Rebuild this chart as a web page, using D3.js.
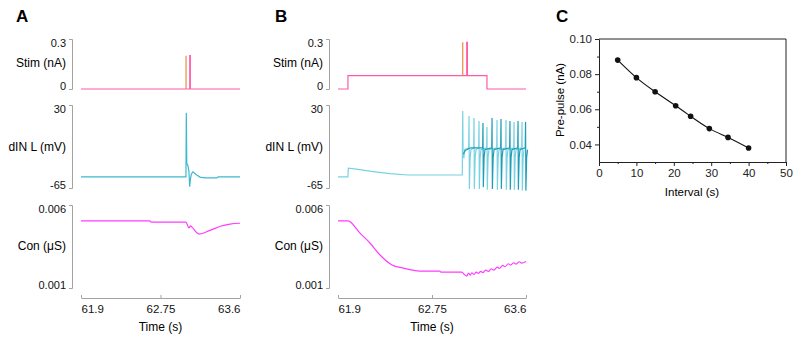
<!DOCTYPE html>
<html>
<head>
<meta charset="utf-8">
<script src="https://cdn.jsdelivr.net/npm/d3@7.9.0/dist/d3.min.js"></script>
<style>
  body { margin: 0; background: #fff; }
  svg { display: block; font-family: "Liberation Sans", Arial, sans-serif; }
</style>
</head>
<body>
<svg width="800" height="342"></svg>
<script>
// ---- data ----
const timeTicks = [61.9, 62.75, 63.6];
const stimTicks = [0, 0.3];
const dinTicks = [-65, 30];
const conTicks = [0.001, 0.006];

// panel A (single test pulse)
const stimA = [[61.9, 0], [63.063, 0], [63.063, 0.2], [63.069, 0.2], [63.069, 0], [63.6, 0]];
const stimPulseA = [[63.023, 0], [63.023, 0.2]];
const dinA = [
  [61.9, -52.2], [63.022, -52.2], [63.026, 21], [63.031, -37], [63.042, -39],
  [63.054, -46], [63.062, -63.5], [63.07, -55], [63.08, -49], [63.097, -46.5],
  [63.13, -49.5], [63.172, -52.5], [63.226, -53.5], [63.354, -53.5], [63.366, -52.3], [63.6, -52.3]
];
const conA = [
  [61.9, 0.00504], [62.637, 0.00504], [62.648, 0.00497], [63.022, 0.00497],
  [63.054, 0.00462], [63.072, 0.00474], [63.084, 0.00468], [63.162, 0.00425],
  [63.279, 0.00447], [63.39, 0.00472], [63.493, 0.00485], [63.6, 0.0049]
];

// panel B (pre-pulse + test pulse)
const stimB = [
  [61.9, 0], [61.99, 0], [61.99, 0.08], [63.064, 0.08], [63.064, 0.28], [63.07, 0.28],
  [63.07, 0.08], [63.247, 0.08], [63.247, 0], [63.6, 0]
];
const stimPulseB = [[63.028, 0.08], [63.028, 0.28]];
const dinBPre = [
  [61.9, -52.2], [61.99, -52.2], [61.993, -42.4], [62.066, -43.5], [62.2, -46],
  [62.37, -48.6], [62.533, -50.1], [63.024, -50.1]
];
const spikeTimesL = [63.028, 63.085, 63.13, 63.175, 63.247, 63.338, 63.419, 63.492, 63.564];
const spikePeaksL = [23, 17.4, 15, 11.7, 4.8, 12.8, 12.8, 10.5, 10.5];
const spikeTroughsL = [-28, -66, -66, -66, -67, -67, -67, -67, -68];
const spikeTimesD = [63.211, 63.293, 63.374, 63.455, 63.528, 63.596];
const spikePeaksD = [9.4, 15, 14, 11.7, 11.7, 10.5];
const spikeTroughsD = [-64, -66, -66, -67, -67, -68];
const conB = [
  [61.9, 0.00504], [61.99, 0.00504], [62.099, 0.00431], [62.189, 0.00371], [62.28, 0.00299],
  [62.388, 0.00239], [62.488, 0.0022], [62.641, 0.00202], [62.82, 0.00202], [62.83, 0.00196],
  [63.02, 0.00196], [63.045, 0.0018], [63.065, 0.00172], [63.08, 0.0019], [63.095, 0.00178],
  [63.11, 0.00192], [63.13, 0.00182], [63.15, 0.00196], [63.17, 0.00188], [63.19, 0.002],
  [63.21, 0.00192], [63.235, 0.00208], [63.26, 0.002], [63.285, 0.00216], [63.31, 0.00208],
  [63.34, 0.00226], [63.36, 0.00218], [63.39, 0.00236], [63.41, 0.00228], [63.44, 0.00246],
  [63.46, 0.00238], [63.49, 0.00252], [63.51, 0.00244], [63.54, 0.00258], [63.56, 0.0025], [63.6, 0.0026]
];

// panel C
const intervals = [5, 10, 15, 20.5, 24.5, 29.5, 34.5, 40];
const prePulse = [0.088, 0.078, 0.070, 0.062, 0.056, 0.049, 0.044, 0.038];
const intervalTicks = [0, 10, 20, 30, 40, 50];
const prePulseTicks = [0.04, 0.06, 0.08, 0.10];

// ---- drawing ----
const svg = d3.select('svg');
const grey = '#a3a3a3';
const cPink = '#ff5aa8', cOrange = '#ef8a3e', cCyan = '#3cb9d0', cCyanLight = '#78d2e2',
  cCyanDark = '#1e9db6', cMag = '#ff3cff';

const rows = { stim: [89, 39], din: [188, 105], con: [288, 205] };
const timeAxisY = 298;

function letter(txt, x) {
  svg.append('text').attr('x', x).attr('y', 22).attr('font-size', 17)
    .attr('font-weight', 'bold').text(txt);
}

function bracketAxis(g, axisX, y, ticks, title, titleY) {
  g.append('g')
    .attr('transform', `translate(${axisX},0)`)
    .call(d3.axisLeft(y).tickValues(ticks).tickSizeInner(3).tickSizeOuter(3)
      .tickPadding(3).tickFormat((d) => String(d)))
    .call((a) => {
      a.selectAll('path, line').attr('stroke', grey);
      a.selectAll('text').attr('font-size', 11).attr('fill', '#111')
        .attr('dy', (d) => (d === ticks[1] ? '0.72em' : '0'));
    });
  g.append('text').attr('x', axisX - 6).attr('y', titleY).attr('text-anchor', 'end')
    .attr('font-size', 12).text(title);
}

function tracePanel(cfg) {
  const g = svg.append('g');
  const x = d3.scaleLinear().domain([61.9, 63.6]).range([cfg.x0, cfg.x1]);
  const yS = d3.scaleLinear().domain([0, 0.3]).range(rows.stim);
  const yD = d3.scaleLinear().domain([-65, 30]).range(rows.din);
  const yC = d3.scaleLinear().domain([0.001, 0.006]).range(rows.con);

  bracketAxis(g, cfg.axisX, yS, stimTicks, 'Stim (nA)', 67);
  bracketAxis(g, cfg.axisX, yD, dinTicks, 'dIN L (mV)', 151);
  bracketAxis(g, cfg.axisX, yC, conTicks, 'Con (\u03bcS)', 250);

  g.append('g')
    .attr('transform', `translate(0,${timeAxisY})`)
    .call(d3.axisBottom(x).tickValues(timeTicks).tickSizeInner(-3).tickSizeOuter(0)
      .tickPadding(7).tickFormat((d) => String(d)))
    .call((a) => {
      a.selectAll('path, line').attr('stroke', grey);
      a.selectAll('text').attr('font-size', 11.5).attr('fill', '#111')
        .attr('text-anchor', (d, i) => (i === 0 ? 'start' : i === timeTicks.length - 1 ? 'end' : 'middle'));
    });
  g.append('text').attr('x', (cfg.x0 + cfg.x1) / 2).attr('y', 331).attr('text-anchor', 'middle')
    .attr('font-size', 12).text('Time (s)');

  const draw = (data, y, color, curve) => {
    g.append('path').datum(data)
      .attr('fill', 'none').attr('stroke', color).attr('stroke-width', 1.2)
      .attr('d', d3.line().x((d) => x(d[0])).y((d) => y(d[1])).curve(curve || d3.curveLinear));
  };

  draw(cfg.pulse, yS, cOrange);
  draw(cfg.stim, yS, cPink);
  cfg.din.forEach(([data, color]) => draw(data, yD, color));
  draw(cfg.con, yC, cMag, d3.curveMonotoneX);
}

function spikeTrain(start, times, peaks, troughs) {
  const pts = start.slice();
  times.forEach((t, i) => {
    pts.push([t - 0.003, -19], [t, peaks[i]], [t + 0.003, troughs[i]], [t + 0.01, -30], [t + 0.018, -21]);
  });
  return pts;
}

letter('A', 16);
letter('B', 275);
letter('C', 556);

tracePanel({
  x0: 81, x1: 240, axisX: 72,
  stim: stimA, pulse: stimPulseA,
  din: [[dinA, cCyan]],
  con: conA
});

const dinBLight = spikeTrain(dinBPre, spikeTimesL, spikePeaksL, spikeTroughsL);
const dinBDark = spikeTrain([[63.034, -26], [63.05, -22], [63.1, -19]], spikeTimesD, spikePeaksD, spikeTroughsD);

tracePanel({
  x0: 338, x1: 526, axisX: 329,
  stim: stimB, pulse: stimPulseB,
  din: [[dinBLight, cCyanLight], [dinBDark, cCyanDark]],
  con: conB
});

// ---- panel C ----
const gc = svg.append('g');
const xc = d3.scaleLinear().domain([0, 50]).range([599, 786]);
const yc = d3.scaleLinear().domain([0.03, 0.10]).range([162, 39]);
const ink = '#222';

gc.append('g').attr('transform', 'translate(0,162)')
  .call(d3.axisBottom(xc).tickValues(intervalTicks).tickSizeInner(4).tickSizeOuter(0).tickPadding(3))
  .call((a) => a.selectAll('text').attr('font-size', 11.5).attr('fill', ink));
gc.append('g').attr('transform', 'translate(0,162)')
  .call(d3.axisBottom(xc).tickValues([5, 15, 25, 35, 45]).tickSize(2).tickFormat(''))
  .call((a) => a.select('.domain').remove());
gc.append('g').attr('transform', 'translate(599,0)')
  .call(d3.axisLeft(yc).tickValues(prePulseTicks).tickSizeInner(4).tickSizeOuter(0).tickPadding(3)
    .tickFormat(d3.format('.2f')))
  .call((a) => a.selectAll('text').attr('font-size', 11.5).attr('fill', ink));
gc.append('g').attr('transform', 'translate(599,0)')
  .call(d3.axisLeft(yc).tickValues([0.05, 0.07, 0.09]).tickSize(2).tickFormat(''))
  .call((a) => a.select('.domain').remove());
gc.selectAll('.domain, .tick line').attr('stroke', ink);
gc.append('path').attr('fill', 'none').attr('stroke', ink)
  .attr('d', `M${xc(0)},${yc(0.10)}H${xc(50)}V${yc(0.03)}`);

const pts = intervals.map((v, i) => [v, prePulse[i]]);
gc.append('path').datum(pts).attr('fill', 'none').attr('stroke', '#111').attr('stroke-width', 1.1)
  .attr('d', d3.line().x((d) => xc(d[0])).y((d) => yc(d[1])).curve(d3.curveNatural));
gc.selectAll('circle').data(pts).join('circle')
  .attr('cx', (d) => xc(d[0])).attr('cy', (d) => yc(d[1])).attr('r', 2.8).attr('fill', '#111');

gc.append('text').attr('x', 692).attr('y', 196).attr('text-anchor', 'middle')
  .attr('font-size', 11.5).text('Interval (s)');
gc.append('text').attr('transform', 'translate(564,100) rotate(-90)').attr('text-anchor', 'middle')
  .attr('font-size', 11.5).text('Pre-pulse (nA)');
</script>
</body>
</html>
